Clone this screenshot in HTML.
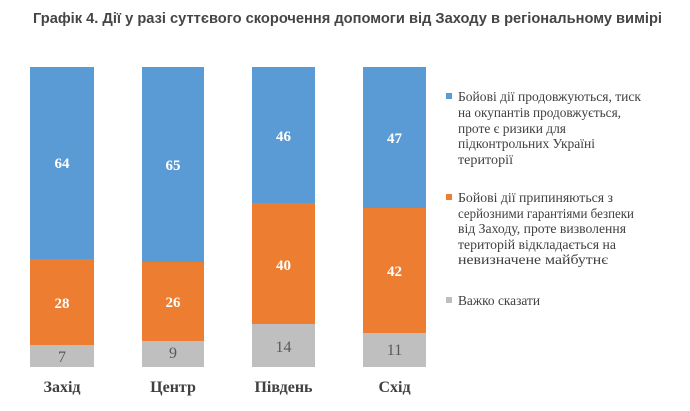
<!DOCTYPE html>
<html><head><meta charset="utf-8"><style>
html,body{margin:0;padding:0;background:#fff;}
svg{display:block;}
</style></head><body>
<svg width="690" height="411" viewBox="0 0 690 411" xmlns="http://www.w3.org/2000/svg">
<rect width="690" height="411" fill="#fff"/>
<text x="33" y="23" font-family="Liberation Sans, sans-serif" font-weight="bold" font-size="15" fill="#454545" textLength="629" lengthAdjust="spacingAndGlyphs">Графік 4. Дії у разі суттєвого скорочення допомоги від Заходу в регіональному вимірі</text>

<!-- Bar 1 Захід -->
<rect x="30" y="67" width="64" height="192" fill="#5B9BD5"/>
<rect x="30" y="259" width="64" height="86" fill="#ED7D31"/>
<rect x="30" y="345" width="64" height="22" fill="#BFBFBF"/>
<!-- Bar 2 Центр -->
<rect x="142" y="67" width="62" height="195" fill="#5B9BD5"/>
<rect x="142" y="262" width="62" height="79" fill="#ED7D31"/>
<rect x="142" y="341" width="62" height="26" fill="#BFBFBF"/>
<!-- Bar 3 Південь -->
<rect x="252" y="67" width="63" height="136" fill="#5B9BD5"/>
<rect x="252" y="203" width="63" height="121" fill="#ED7D31"/>
<rect x="252" y="324" width="63" height="43" fill="#BFBFBF"/>
<!-- Bar 4 Схід -->
<rect x="363" y="67" width="63" height="141" fill="#5B9BD5"/>
<rect x="363" y="208" width="63" height="125" fill="#ED7D31"/>
<rect x="363" y="333" width="63" height="34" fill="#BFBFBF"/>

<g font-family="Liberation Serif, serif" font-weight="bold" font-size="15" fill="#fff" text-anchor="middle">
<text x="62" y="168">64</text>
<text x="173" y="170">65</text>
<text x="283.5" y="141">46</text>
<text x="394.5" y="143">47</text>
<text x="62" y="308">28</text>
<text x="173" y="307">26</text>
<text x="283.5" y="270">40</text>
<text x="394.5" y="276">42</text>
</g>
<g font-family="Liberation Serif, serif" font-size="16" fill="#595959" text-anchor="middle">
<text x="62" y="362">7</text>
<text x="173" y="358">9</text>
<text x="283.5" y="352">14</text>
<text x="394.5" y="355">11</text>
</g>
<g font-family="Liberation Serif, serif" font-weight="bold" font-size="16" fill="#404040" text-anchor="middle">
<text x="62" y="392">Захід</text>
<text x="173" y="392">Центр</text>
<text x="283.5" y="392">Південь</text>
<text x="394.5" y="392">Схід</text>
</g>

<rect x="446" y="93" width="6" height="6" fill="#5B9BD5"/>
<rect x="446" y="194" width="6" height="6" fill="#ED7D31"/>
<rect x="446" y="297" width="6" height="6" fill="#BFBFBF"/>
<g font-family="Liberation Serif, serif" font-size="14" fill="#404040">
<text x="458" y="101" textLength="183" lengthAdjust="spacingAndGlyphs">Бойові дії продовжуються, тиск</text>
<text x="458" y="117" textLength="163" lengthAdjust="spacingAndGlyphs">на окупантів продовжується,</text>
<text x="458" y="133" textLength="108" lengthAdjust="spacingAndGlyphs">проте є ризики для</text>
<text x="458" y="148" textLength="137" lengthAdjust="spacingAndGlyphs">підконтрольних Україні</text>
<text x="458" y="164" textLength="55" lengthAdjust="spacingAndGlyphs">території</text>
<text x="458" y="202" textLength="155" lengthAdjust="spacingAndGlyphs">Бойові дії припиняються з</text>
<text x="458" y="218" textLength="176" lengthAdjust="spacingAndGlyphs">серйозними гарантіями безпеки</text>
<text x="458" y="233" textLength="168" lengthAdjust="spacingAndGlyphs">від Заходу, проте визволення</text>
<text x="458" y="249" textLength="158" lengthAdjust="spacingAndGlyphs">територій відкладається на</text>
<text x="458" y="264" textLength="150" lengthAdjust="spacingAndGlyphs">невизначене майбутнє</text>
<text x="458" y="305" textLength="82" lengthAdjust="spacingAndGlyphs">Важко сказати</text>
</g>
</svg>
</body></html>
